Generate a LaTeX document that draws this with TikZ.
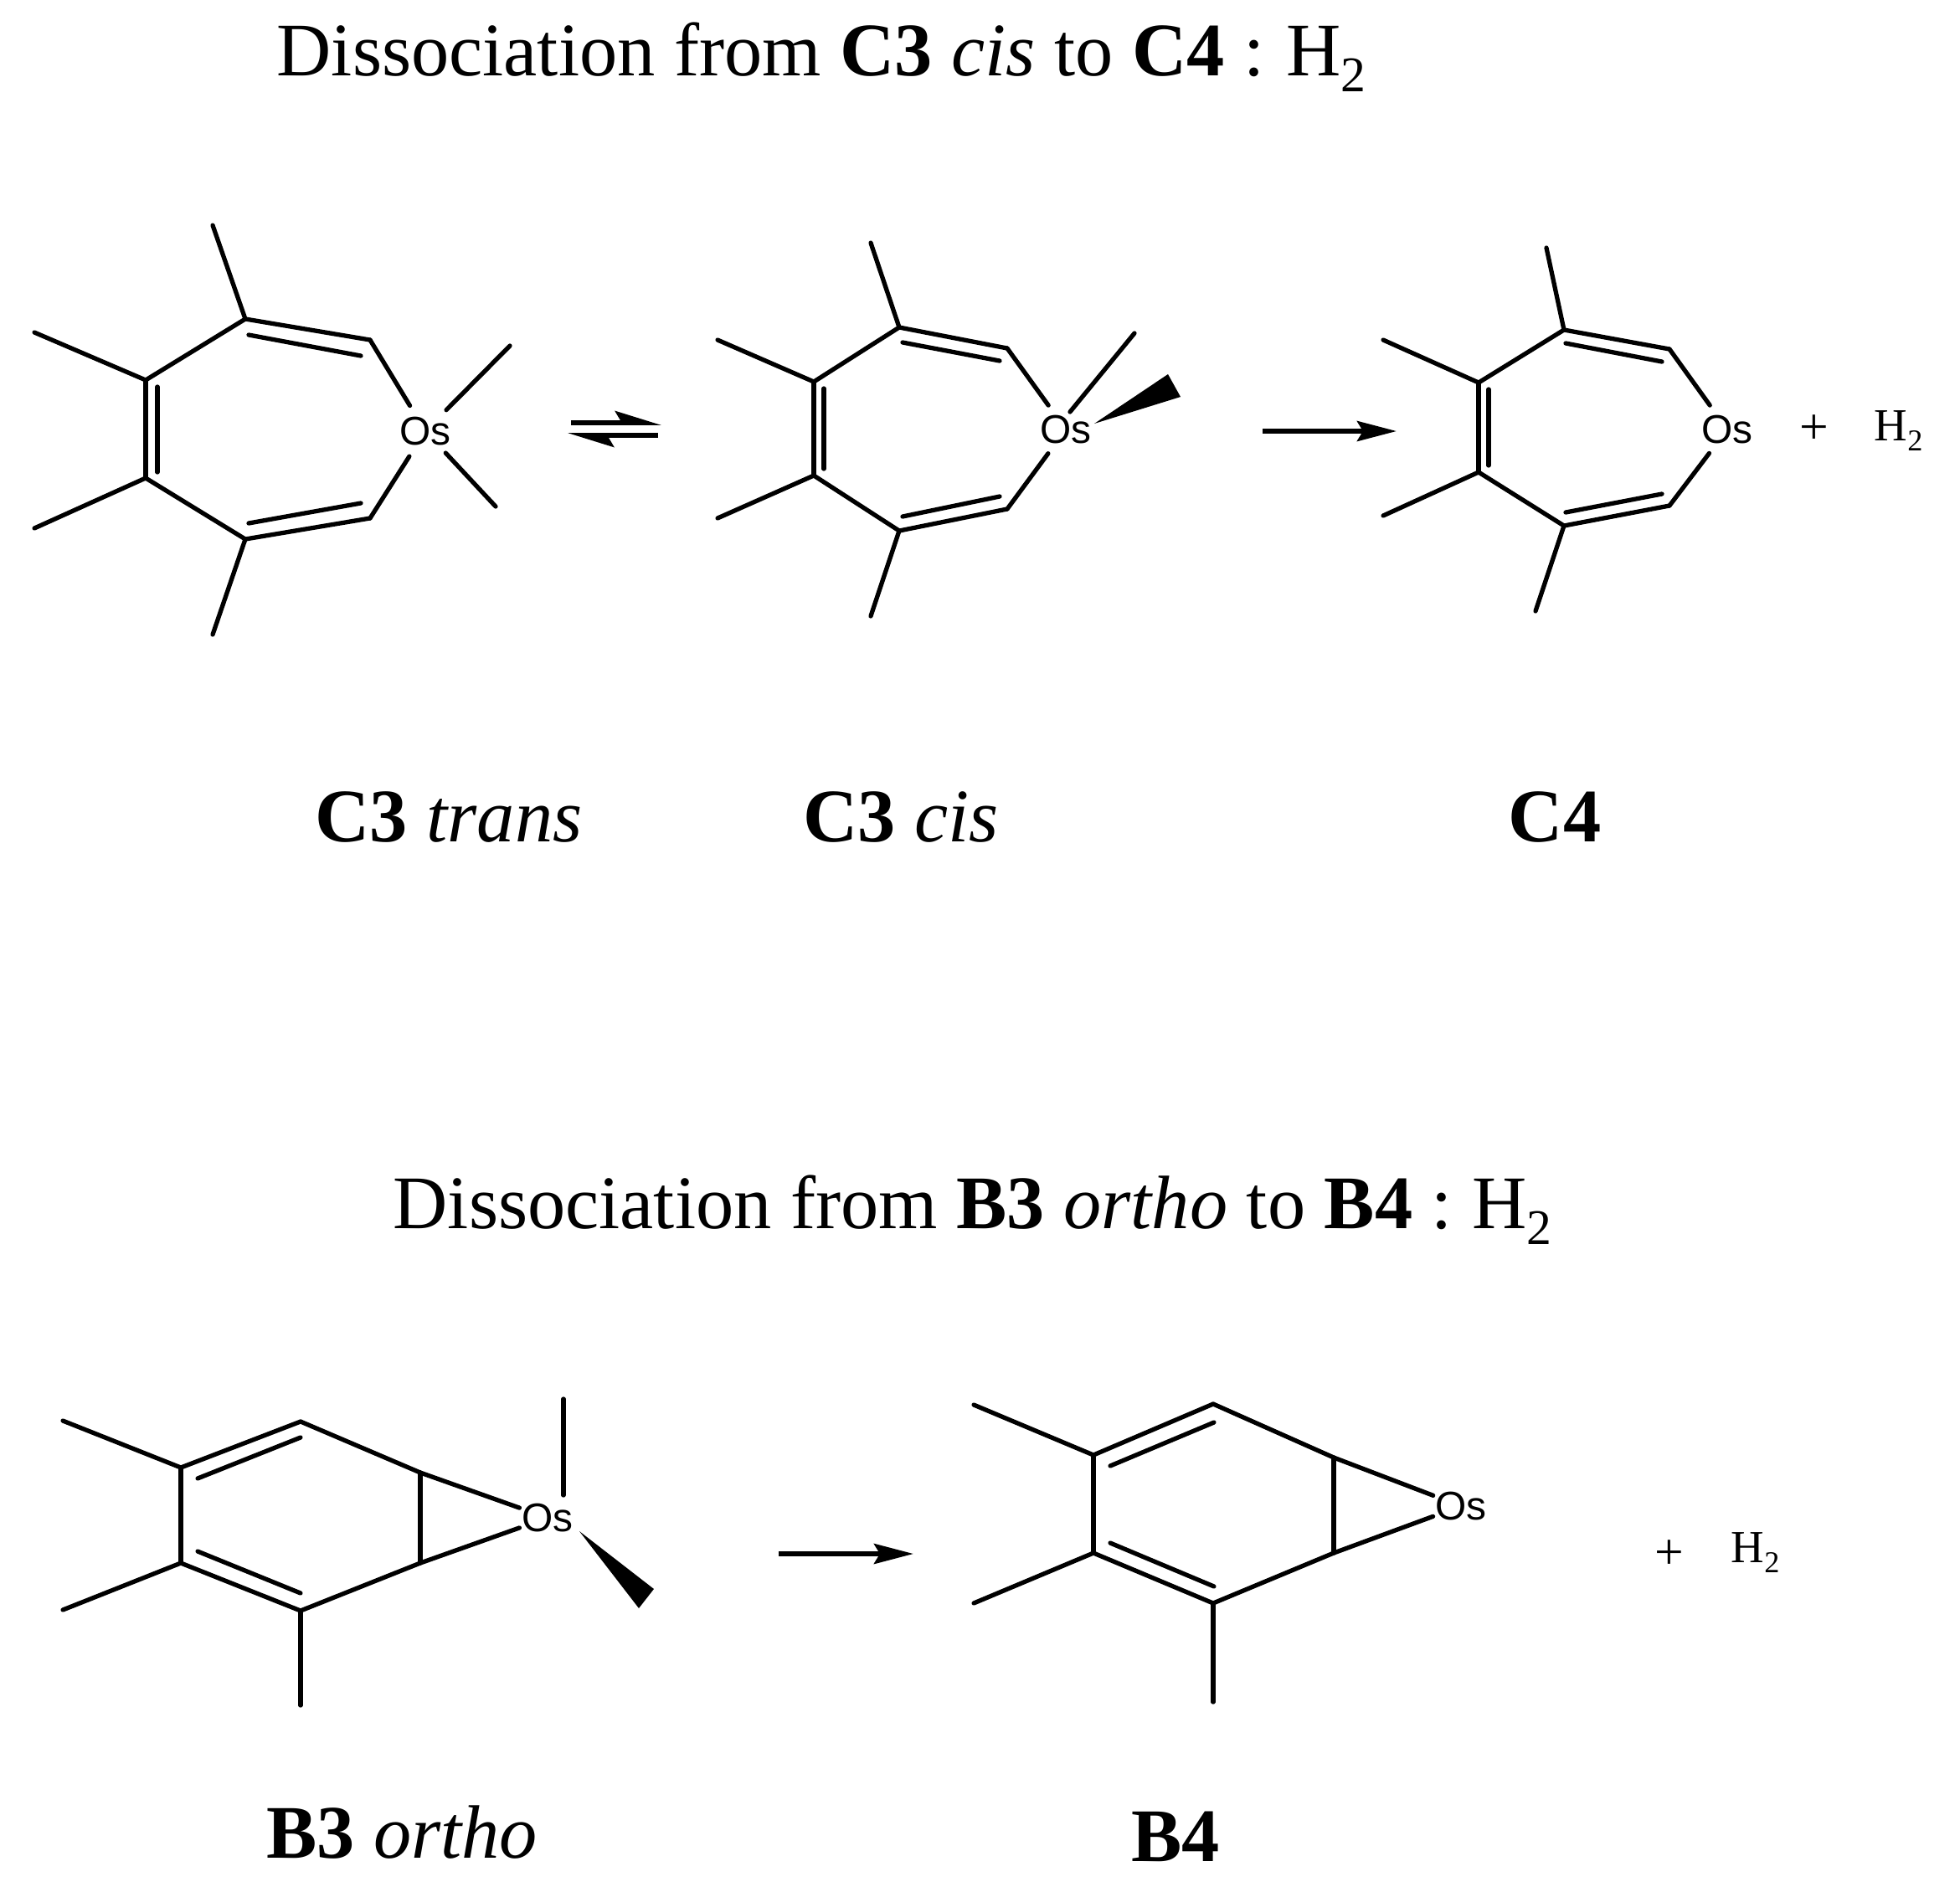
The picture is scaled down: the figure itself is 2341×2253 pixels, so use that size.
\documentclass[tikz,border=0pt]{standalone}
\usepackage{fontspec}
\setmainfont{Liberation Serif}
\newfontfamily\labelfont{Liberation Sans}
\usepackage{tikz}
\usetikzlibrary{graphs}
\usetikzlibrary{arrows.meta}
\newcommand{\Htwo}{H\raisebox{-0.22em}{\scalebox{0.66}{2}}}
\tikzset{
    every new --/.append style={line width=1.5pt, line cap=round},
    metal/.style={circle, inner sep=0pt, minimum size=0.64cm, font=\labelfont\fontsize{13.6pt}{15pt}\selectfont},
    heading/.style={anchor=base west, inner sep=0pt, font=\fontsize{25.7pt}{30pt}\selectfont},
    compound/.style={anchor=base, inner sep=0pt, font=\fontsize{25.7pt}{30pt}\selectfont},
    product/.style={anchor=base west, inner sep=0pt, font=\fontsize{15.6pt}{18pt}\selectfont},
    plus/.style={inner sep=0pt, font=\fontsize{17.5pt}{18pt}\selectfont},
    reaction/.style={line width=1.6pt, -{Stealth[length=0.47cm, width=0.24cm, inset=0.07cm]}},
    equilibrium/.style={line width=1.6pt, -{Stealth[harpoon, length=0.46cm, width=0.28cm, inset=0.08cm]}},
}
\begin{document}
\begin{tikzpicture}[x=0.01cm, y=-0.01cm]
        \useasboundingbox (0, 0) rectangle (2341, 2253);

        \node[heading] (title1) at (330, 90)   {Dissociation from \textbf{C3} \textit{cis} to \textbf{C4} :\hspace{0.29em}\Htwo};
        \node[heading] (title2) at (469, 1467) {Dissociation from \textbf{B3} \textit{ortho} to \textbf{B4} :\hspace{0.26em}\Htwo};

        \node[compound] (trans) at (536, 1005)  {\textbf{C3} \textit{trans}};
        \node[compound] (cis)   at (1076, 1005) {\textbf{C3} \textit{cis}};
        \node[compound] (c4)    at (1857, 1005) {\textbf{C4}};
        \node[compound] (ortho) at (480, 2219)  {\textbf{B3} \textit{ortho}};
        \node[compound] (b4)    at (1404, 2223) {\textbf{B4}};

        \node[metal] (tos) at (508, 515)   {Os};
        \coordinate (t1) at (293, 381);
        \coordinate (t2) at (442, 406);
        \coordinate (t3) at (442, 619);
        \coordinate (t4) at (293, 644);
        \coordinate (t5) at (174, 571);
        \coordinate (t6) at (174, 454);
        \coordinate (ts1) at (254, 269);
        \coordinate (ts4) at (254, 758);
        \coordinate (ts5) at (41, 631);
        \coordinate (ts6) at (41, 397);
        \coordinate (tm1) at (609, 413);
        \coordinate (tm2) at (592, 605);
        \coordinate (ta1) at (297, 400);
        \coordinate (ta2) at (431, 425);
        \coordinate (tb1) at (297, 625);
        \coordinate (tb2) at (431, 601);
        \coordinate (tc1) at (188, 462);
        \coordinate (tc2) at (188, 564);

        \graph {(tos) -- (t2) -- (t1) -- (t6) -- (t5) -- (t4) -- (t3) -- (tos)};
        \graph {(t1) -- (ts1)};
        \graph {(t4) -- (ts4)};
        \graph {(t5) -- (ts5)};
        \graph {(t6) -- (ts6)};
        \graph {(tos) -- (tm1)};
        \graph {(tos) -- (tm2)};
        \graph {(ta1) -- (ta2)};
        \graph {(tb1) -- (tb2)};
        \graph {(tc1) -- (tc2)};

        \coordinate (eqa1) at (682, 505);
        \coordinate (eqa2) at (790, 505);
        \coordinate (eqb1) at (786, 520);
        \coordinate (eqb2) at (678, 520);
        \draw[equilibrium] (eqa1) -- (eqa2);
        \draw[equilibrium] (eqb1) -- (eqb2);

        \node[metal] (cos) at (1273, 513)  {Os};
        \coordinate (c1) at (1074, 391);
        \coordinate (c2) at (1203, 416);
        \coordinate (c3) at (1203, 608);
        \coordinate (c4r) at (1074, 634);
        \coordinate (c5) at (972, 568);
        \coordinate (c6) at (972, 456);
        \coordinate (cs1) at (1040, 290);
        \coordinate (cs4) at (1040, 736);
        \coordinate (cs5) at (857, 619);
        \coordinate (cs6) at (857, 406);
        \coordinate (cm0) at (1278, 492);
        \coordinate (cm1) at (1355, 398);
        \coordinate (cw1) at (1307, 506);
        \coordinate (cw2) at (1395, 447);
        \coordinate (cw3) at (1410, 474);
        \coordinate (ca1) at (1078, 409);
        \coordinate (ca2) at (1194, 431);
        \coordinate (cb1) at (1078, 617);
        \coordinate (cb2) at (1194, 593);
        \coordinate (cc1) at (984, 464);
        \coordinate (cc2) at (984, 560);

        \graph {(cos) -- (c2) -- (c1) -- (c6) -- (c5) -- (c4r) -- (c3) -- (cos)};
        \graph {(c1) -- (cs1)};
        \graph {(c4r) -- (cs4)};
        \graph {(c5) -- (cs5)};
        \graph {(c6) -- (cs6)};
        \graph {(cm0) -- (cm1)};
        \graph {(ca1) -- (ca2)};
        \graph {(cb1) -- (cb2)};
        \graph {(cc1) -- (cc2)};
        \fill (cw1) -- (cw2) -- (cw3) -- cycle;

        \coordinate (ra1) at (1508, 515);
        \coordinate (ra2) at (1668, 515);
        \draw[reaction] (ra1) -- (ra2);

        \node[metal] (fos) at (2063, 513)  {Os};
        \coordinate (f1) at (1868, 394);
        \coordinate (f2) at (1994, 417);
        \coordinate (f3) at (1994, 604);
        \coordinate (f4) at (1868, 628);
        \coordinate (f5) at (1766, 564);
        \coordinate (f6) at (1766, 457);
        \coordinate (fs1) at (1847, 296);
        \coordinate (fs4) at (1834, 730);
        \coordinate (fs5) at (1652, 616);
        \coordinate (fs6) at (1652, 406);
        \coordinate (fa1) at (1870, 410);
        \coordinate (fa2) at (1985, 432);
        \coordinate (fb1) at (1870, 612);
        \coordinate (fb2) at (1985, 590);
        \coordinate (fc1) at (1778, 465);
        \coordinate (fc2) at (1778, 556);

        \graph {(fos) -- (f2) -- (f1) -- (f6) -- (f5) -- (f4) -- (f3) -- (fos)};
        \graph {(f1) -- (fs1)};
        \graph {(f4) -- (fs4)};
        \graph {(f5) -- (fs5)};
        \graph {(f6) -- (fs6)};
        \graph {(fa1) -- (fa2)};
        \graph {(fb1) -- (fb2)};
        \graph {(fc1) -- (fc2)};

        \node[plus] (plus1) at (2167, 513)     {+};
        \node[product] (hyd1) at (2238, 526)   {\Htwo};

        \node[metal] (oos) at (654, 1813)  {Os};
        \coordinate (o1) at (359, 1698);
        \coordinate (o2) at (502, 1759);
        \coordinate (o3) at (502, 1867);
        \coordinate (o4) at (359, 1924);
        \coordinate (o5) at (216, 1867);
        \coordinate (o6) at (216, 1753);
        \coordinate (os4) at (359, 2037);
        \coordinate (os5) at (75, 1923);
        \coordinate (os6) at (75, 1697);
        \coordinate (om0) at (673, 1786);
        \coordinate (om1) at (673, 1671);
        \coordinate (ow1) at (692, 1829);
        \coordinate (ow2) at (781, 1898);
        \coordinate (ow3) at (763, 1921);
        \coordinate (oa1) at (236, 1766);
        \coordinate (oa2) at (359, 1717);
        \coordinate (ob1) at (236, 1853);
        \coordinate (ob2) at (359, 1903);

        \graph {(oos) -- (o2) -- (o1) -- (o6) -- (o5) -- (o4) -- (o3) -- (oos)};
        \graph {(o2) -- (o3)};
        \graph {(o4) -- (os4)};
        \graph {(o5) -- (os5)};
        \graph {(o6) -- (os6)};
        \graph {(om0) -- (om1)};
        \graph {(oa1) -- (oa2)};
        \graph {(ob1) -- (ob2)};
        \fill (ow1) -- (ow2) -- (ow3) -- cycle;

        \coordinate (rb1) at (930, 1856);
        \coordinate (rb2) at (1091, 1856);
        \draw[reaction] (rb1) -- (rb2);

        \node[metal] (bos) at (1745, 1799) {Os};
        \coordinate (b1) at (1449, 1677);
        \coordinate (b2) at (1593, 1741);
        \coordinate (b3) at (1593, 1855);
        \coordinate (b4r) at (1449, 1915);
        \coordinate (b5) at (1306, 1855);
        \coordinate (b6) at (1306, 1738);
        \coordinate (bs4) at (1449, 2033);
        \coordinate (bs5) at (1163, 1915);
        \coordinate (bs6) at (1163, 1678);
        \coordinate (ba1) at (1326, 1751);
        \coordinate (ba2) at (1450, 1699);
        \coordinate (bb1) at (1326, 1843);
        \coordinate (bb2) at (1450, 1895);

        \graph {(bos) -- (b2) -- (b1) -- (b6) -- (b5) -- (b4r) -- (b3) -- (bos)};
        \graph {(b2) -- (b3)};
        \graph {(b4r) -- (bs4)};
        \graph {(b5) -- (bs5)};
        \graph {(b6) -- (bs6)};
        \graph {(ba1) -- (ba2)};
        \graph {(bb1) -- (bb2)};

        \node[plus] (plus2) at (1994, 1857)    {+};
        \node[product] (hyd2) at (2067, 1866)  {\Htwo};
    \end{tikzpicture}
\end{document}
